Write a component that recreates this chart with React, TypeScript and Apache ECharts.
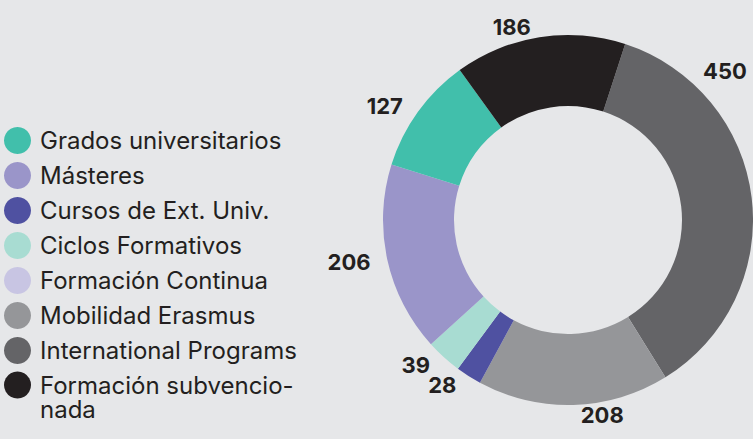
import React, { useEffect, useRef } from "react";
import * as echarts from "echarts";

const legendOrder = [
  "Grados universitarios",
  "Másteres",
  "Cursos de Ext. Univ.",
  "Ciclos Formativos",
  "Formación Continua",
  "Mobilidad Erasmus",
  "International Programs",
  "Formación subvencionada",
];

// clockwise order of the slices, starting at the top
const sliceNames = [
  "International Programs",
  "Mobilidad Erasmus",
  "Cursos de Ext. Univ.",
  "Ciclos Formativos",
  "Másteres",
  "Grados universitarios",
  "Formación subvencionada",
  "Formación Continua",
];
const sliceValues = [450, 208, 28, 39, 206, 127, 186, 0];

const colors: Record<string, string> = {
  "Grados universitarios": "#41bfab",
  "Másteres": "#9a95c9",
  "Cursos de Ext. Univ.": "#4f51a1",
  "Ciclos Formativos": "#a8dcd2",
  "Formación Continua": "#c8c5e3",
  "Mobilidad Erasmus": "#959699",
  "International Programs": "#646467",
  "Formación subvencionada": "#231f20",
};

const FONT = "Inter, 'Noto Sans', sans-serif";

const legendBase = {
  orient: "vertical",
  left: 4,
  padding: 0,
  icon: "circle",
  itemWidth: 35,
  itemHeight: 27,
  itemGap: 8,
  selectedMode: false,
  textStyle: {
    fontSize: 24,
    color: "#231f20",
    lineHeight: 24,
    fontFamily: FONT,
  },
};

export default function App() {
  const ref = useRef<HTMLDivElement>(null);
  useEffect(() => {
    document.body.style.margin = "0";
    const chart = echarts.init(ref.current!, null, { renderer: "svg" });
    chart.setOption({
      animation: false,
      backgroundColor: "#e6e7e9",
      textStyle: { fontFamily: FONT },
      legend: [
        {
          ...legendBase,
          top: 127,
          data: legendOrder.slice(0, 7),
        },
        {
          ...legendBase,
          top: 349,
          formatter: () => "\nFormación subvencio-\nnada",
          data: legendOrder.slice(7),
        },
      ],
      series: [
        {
          type: "pie",
          center: [568, 220],
          radius: [114, 185],
          startAngle: 72,
          clockwise: true,
          avoidLabelOverlap: false,
          label: {
            show: true,
            position: "outside",
            formatter: "{c}",
            fontSize: 22,
            fontWeight: "bold",
            color: "#231f20",
            fontFamily: FONT,
          },
          labelLine: { show: false, length: 10, length2: 2 },
          labelLayout: (params: any) =>
            params.dataIndex === 0
              ? { x: 703, y: 71, align: "left", verticalAlign: "middle" }
              : {},
          emphasis: { disabled: true },
          data: sliceNames.map((n, i) => ({
            name: n,
            value: sliceValues[i],
            itemStyle: { color: colors[n] },
            label: sliceValues[i] === 0 ? { show: false } : undefined,
          })),
        },
      ],
    });
    return () => chart.dispose();
  }, []);
  return <div ref={ref} style={{ width: 753, height: 439 }} />;
}
